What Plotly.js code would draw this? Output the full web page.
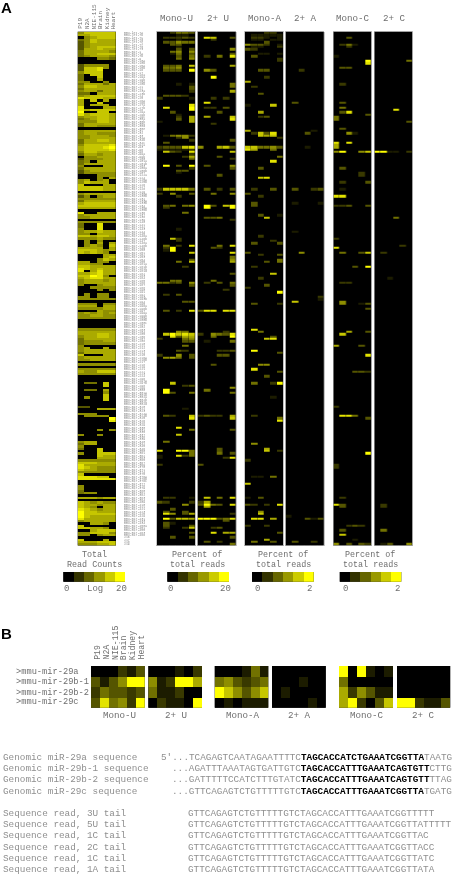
<!DOCTYPE html>
<html><head><meta charset="utf-8">
<script src="https://cdn.plot.ly/plotly-3.0.1.min.js"></script>
<style>html,body{margin:0;padding:0;background:#fff}#plot{width:459px;height:874px;filter:blur(0.45px)}</style>
</head><body><div id="plot"></div>
<script>
// Digits 0-9: shade from black (0) to full yellow (9).
const cellLines = ['P19','N2A','NIE-115','Brain','Kidney','Heart'];
const totalReads = ('577777 667777 056777 457666 357666 356666 356777 366766 466665 466777 456665 000554 000000 000000 355550 377850 377800 577700 407700 400700 ' +
 '400600 550050 466646 577666 466666 566466 440666 567777 877766 607060 600700 606660 800066 867777 900770 867776 566776 456776 555776 466666 ' +
 '466555 000000 566666 566555 556665 556666 466776 466666 577778 677789 677778 577666 466566 055666 355566 450666 466666 500066 466666 356666 ' +
 '355555 000555 000506 560560 576660 700066 777766 777766 000000 566666 350566 555555 466666 677777 777777 666666 000000 800666 566666 556666 ' +
 '000000 555555 400800 400800 500800 566766 550666 776776 555655 050500 050606 056507 666606 777656 767650 000066 000067 000576 660550 665500 ' +
 '776666 876766 806866 667866 779850 678866 566656 566666 500566 005555 000505 000000 050550 550550 555555 000000 555055 666066 555566 000655 ' +
 '565656 556655 555555 000000 000000 000000 000000 555555 666666 666776 566776 466666 455566 455555 500000 560060 566666 466666 700066 566666 ' +
 '556666 000000 555555 000000 555555 655777 555555 000000 000000 000000 044070 000070 000000 044060 000050 000070 050070 000070 000000 000000 ' +
 '330000 000666 000000 555000 055550 000009 000008 000000 000000 000000 000505 000000 500500 000000 000000 566000 466000 500000 400700 000700 ' +
 '500777 000766 000666 555555 777666 866666 876555 766555 555555 700000 888770 888888 000000 000000 500000 500000 400000 455000 000000 666566 ' +
 '000000 765655 766566 765066 876566 977666 977777 976666 866666 566666 006650 700000 776650 006777 557775 550566 000000 700060 666777 555667').split(' ');
const monoU = {0:'002443',1:'000110',2:'022232',3:'000100',4:'033544',5:'003300',6:'000100',7:'000303',8:'004505',9:'001403',10:'000304',11:'000405',14:'033407',15:'044501',16:'033309',22:'000101',23:'000003',24:'000003',25:'000002',27:'033320',28:'200001',31:'000008',32:'080009',33:'000009',34:'003000',35:'000100',36:'000206',37:'000306',38:'100006',44:'014552',45:'000250',46:'000002',47:'030000',49:'233378',50:'111112',51:'073208',52:'000002',53:'000026',54:'000004',57:'090309',58:'000002',59:'000330',60:'000100',67:'277774',69:'205003',70:'000200',74:'034045',75:'020000',77:'000040',84:'000100',88:'007200',89:'000200',91:'040208',92:'029000',93:'019000',94:'000007',97:'000003',98:'000407',100:'000020',106:'004400',107:'442305',108:'000003',112:'020300',115:'000033',119:'030208',128:'000540',129:'079787',130:'008366',131:'200045',132:'000033',134:'000040',136:'000320',138:'200503',139:'056403',150:'007000',151:'000023',153:'090000',154:'093004',161:'000010',164:'032007',165:'000008',169:'000800',170:'000004',172:'000700',175:'040000',179:'800994',180:'000004',181:'100824',182:'100000',185:'200000',199:'022001',201:'320002',202:'000050',204:'003000',205:'030030',206:'085036',208:'093776',210:'031000',211:'030003',212:'020027',214:'000003',216:'003003'};
const twoU = {2:'087003',3:'002000',7:'000005',9:'000003',10:'020408',14:'000006',16:'053000',19:'009000',22:'000004',23:'000004',25:'000006',28:'002020',30:'080000',32:'022030',34:'000300',36:'060007',37:'000008',39:'002000',46:'000003',49:'500673',51:'000007',53:'000300',54:'000002',57:'030005',58:'000003',61:'000300',67:'030203',69:'004005',74:'093079',75:'090009',79:'033400',80:'000002',91:'000408',92:'003200',94:'000008',96:'000004',97:'000005',98:'000006',103:'000003',106:'004000',107:'020304',108:'000003',110:'000020',119:'388088',128:'000020',129:'205438',130:'004009',132:'010004',136:'000223',138:'000330',142:'003000',152:'000005',153:'040000',154:'000004',164:'232206',165:'000007',170:'000003',178:'000300',179:'000300',180:'000403',182:'000028',185:'300000',199:'070408',201:'260000',202:'394308',203:'060000',206:'000002',208:'999348',209:'000030',212:'002300',214:'008066',216:'000003',218:'030200',219:'000004'};
const monoA = {0:'000220',1:'011111',2:'022101',3:'011011',4:'000300',5:'533201',6:'011002',7:'320000',9:'001101',10:'030000',11:'000002',12:'000002',16:'003300',19:'000200',21:'600000',23:'020000',26:'003000',31:'100070',34:'006000',36:'002300',42:'600000',43:'027380',44:'007670',45:'000002',49:'774453',50:'860040',53:'000004',55:'000080',58:'003000',62:'007800',67:'020030',69:'300000',70:'002000',73:'030000',74:'030000',78:'003001',79:'000700',87:'002000',89:'000020',90:'030003',94:'300000',95:'002003',97:'000004',98:'000304',100:'020000',103:'000070',105:'002000',108:'000300',109:'200000',111:'000009',116:'030002',127:'080000',128:'004000',130:'000030',131:'000780',136:'090000',137:'000003',142:'005500',144:'080000',145:'000003',147:'000300',150:'040029',156:'000010',164:'020000',165:'000004',166:'000008',176:'050000',178:'000600',179:'000702',183:'200000',190:'011040',193:'700000',199:'103000',202:'320208',205:'005000',206:'007000',208:'088060',211:'200200',214:'000003',217:'000600',218:'040030'};
const twoA = {16:'002000',30:'030000',42:'000010',43:'000300',49:'000100',67:'030023',73:'010001',85:'010000',94:'005000',113:'000002',114:'000001',115:'070000',207:'100000',208:'000313',218:'030020'};
const monoC = {2:'003000',5:'024100',6:'002000',10:'100000',12:'000009',13:'000008',15:'033000',22:'020000',30:'030000',32:'040000',34:'038000',35:'000003',36:'400000',37:'400000',41:'030000',43:'005100',47:'808000',48:'600000',49:'600000',51:'590057',58:'030000',60:'000020',61:'000020',64:'020003',67:'010000',70:'880000',74:'223003',88:'200000',92:'800000',94:'040037',100:'000309',107:'022000',115:'050000',116:'050013',118:'000003',128:'006003',129:'070000',134:'600030',138:'000008',145:'000332',160:'200000',164:'088400',165:'000003',180:'000009',185:'200000',186:'200000',199:'020000',202:'830000',203:'030000',211:'002320',213:'030000',215:'070000',217:'000100',219:'503032'};
const twoC = {12:'000004',33:'000800',38:'000003',51:'991102',79:'000400',91:'000020',94:'020000',105:'001000',202:'020000',203:'020000',213:'040000',219:'013005'};
const miniMonoU = ['000213','313599','243323','384529'];
const miniTwoU  = ['000102','512996','411200','021109'];
const miniMonoA = ['000141','453234','975357','010111'];
const miniTwoA  = ['000000','000100','010000','000010'];
const miniMonoC = ['909101','400000','625311','692037'];
const miniTwoC  = ['000000','000000','000000','992113'];
const legendLevels = [0,1.8,3.6,5.4,7.2,9];
const mirLabels = ('let-7a let-7b let-7c let-7d let-7e let-7f let-7g let-7i mir-1 mir-7a mir-7b mir-9 mir-10a mir-10b mir-15a mir-15b mir-16 mir-17 mir-18a mir-19a mir-19b mir-20a mir-20b mir-21 mir-22 mir-23a mir-23b mir-24 mir-25 mir-26a mir-26b mir-27a mir-27b mir-28 mir-29a mir-29b mir-29c mir-30a mir-30b mir-30c mir-30d mir-30e mir-31 mir-32 mir-33 mir-34a mir-34b mir-34c mir-92a mir-93 mir-96 mir-98 mir-99a mir-99b mir-100 mir-101a mir-101b mir-103 mir-106a mir-106b mir-107 mir-122a mir-124 mir-125a mir-125b mir-126 mir-127 mir-128 mir-129 mir-130a mir-130b mir-132 mir-133a mir-133b mir-134 mir-135a mir-135b mir-136 mir-137 mir-138 mir-139 mir-140 mir-141 mir-142 mir-143 mir-144 mir-145 mir-146a mir-146b mir-147 mir-148a mir-148b mir-149 mir-150 mir-151 mir-152 mir-153 mir-154 mir-155 mir-181a mir-181b mir-181c mir-181d mir-182 mir-183 mir-184 mir-185 mir-186 mir-187 mir-188 mir-190 mir-191 mir-192 mir-193 mir-193b mir-194 mir-195 mir-196a mir-196b mir-197 mir-199a mir-199b mir-200a mir-200b mir-200c mir-201 mir-202 mir-203 mir-204 mir-205 mir-206 mir-207 mir-208 mir-210 mir-211 mir-212 mir-213 mir-214 mir-215 mir-216a mir-216b mir-217 mir-218 mir-219 mir-221 mir-222 mir-223 mir-224 mir-296 mir-297a mir-297b mir-298 mir-299 mir-300 mir-301a mir-301b mir-302a mir-302b mir-302c mir-302d mir-320 mir-322 mir-323 mir-324a mir-324b mir-325 mir-326 mir-328 mir-329 mir-330 mir-331 mir-335 mir-337 mir-338 mir-339 mir-340 mir-342 mir-345 mir-346 mir-350 mir-361 mir-362 mir-363 mir-365 mir-367 mir-369 mir-370 mir-371 mir-374 mir-375 mir-376a mir-376b mir-376c mir-377 mir-378 mir-379 mir-380 mir-381 mir-382 mir-383 mir-384 mir-409 mir-410 mir-411 mir-421 mir-423 mir-425 mir-429 mir-431 mir-433 mir-434 mir-450a mir-451 mir-455 mir-463 mir-466').split(' ').map(s => 'mmu-' + s);
const bRowLabels = ['>mmu-mir-29a','>mmu-mir-29b-1','>mmu-mir-29b-2','>mmu-mir-29c'];
const genomicNames = ['Genomic miR-29a sequence','Genomic miR-29b-1 sequence','Genomic miR-29b-2 sequence','Genomic miR-29c sequence'];
const genomicLead = ["5'...TCAGAGTCAATAGAATTTTC","...AGATTTAAATAGTGATTGTC","...GATTTTTCCATCTTTGTATC","...GTTCAGAGTCTGTTTTTGTC"];
const genomicCore = ['TAGCACCATCTGAAATCGGTTA','TAGCACCATTTGAAATCAGTGTT','TAGCACCATTTGAAATCAGTGTT','TAGCACCATTTGAAATCGGTTA'];
const genomicTail = ['TAATG','CTTG','TTAG','TGATG'];
const readNames = ['Sequence read, 3U tail','Sequence read, 5U tail','Sequence read, 1C tail','Sequence read, 2C tail','Sequence read, 1C tail','Sequence read, 1A tail'];
const readSeqs = ['GTTCAGAGTCTGTTTTTGTCTAGCACCATTTGAAATCGGTTTTT','GTTCAGAGTCTGTTTTTGTCTAGCACCATTTGAAATCGGTTATTTTT','GTTCAGAGTCTGTTTTTGTCTAGCACCATTTGAAATCGGTTAC','GTTCAGAGTCTGTTTTTGTCTAGCACCATTTGAAATCGGTTACC','GTTCAGAGTCTGTTTTTGTCTAGCACCATTTGAAATCGGTTATC','GTTCAGAGTCTGTTTTTGTCTAGCACCATTTGAAATCGGTTATA'];

const W = 459, H = 874, N = 220;
const toRow = s => s.split('').map(Number);
const dense = arr => arr.map(toRow);
const blank = '000000';
const expand = o => Array.from({length:N}, (_, r) => toRow(o[r] || blank));
const scale = [[0,'#000000'],[0.2,'#333300'],[0.4,'#666600'],[0.6,'#999900'],[0.8,'#cccc00'],[1,'#ffff00']];
const MONO = '"Liberation Mono","DejaVu Sans Mono",monospace';
const GREY = '#6e6e6e';

const traces = [], layout = {width:W,height:H,margin:{l:0,r:0,t:0,b:0},paper_bgcolor:'#fff',plot_bgcolor:'#000',showlegend:false,annotations:[]};
let ax = 0;
function heat(z, x0, x1, y0, y1, opt) {
  opt = opt || {};
  ax++;
  const s = ax === 1 ? '' : String(ax);
  traces.push({type:'heatmap', z, xaxis:'x'+s, yaxis:'y'+s, colorscale:scale, zmin:0, zmax:9, showscale:false, hoverinfo:'skip', zsmooth:false, xgap:opt.gap||0});
  const rows = z.length, cols = z[0].length;
  const frame = opt.frame ? {showline:true, mirror:true, linecolor:'#a0a0a0', linewidth:0.6} : {showline:false};
  layout['xaxis'+s] = Object.assign({domain:[x0/W,x1/W], range:[-0.5,cols-0.5], showgrid:false, zeroline:false, showticklabels:false, ticks:'', fixedrange:true, anchor:'y'+s}, frame);
  layout['yaxis'+s] = Object.assign({domain:[1-y1/H,1-y0/H], range:[rows-0.5,-0.5], showgrid:false, zeroline:false, showticklabels:false, ticks:'', fixedrange:true, anchor:'x'+s}, frame, opt.y||{});
}
function txt(text, x, y, o) {
  o = o || {};
  layout.annotations.push({text, xref:'paper', yref:'paper', x:x/W, y:1-y/H, xanchor:o.a||'center', yanchor:o.v||'middle', showarrow:false, textangle:o.rot||0, borderpad:0, borderwidth:0,
    font:{family:o.f||MONO, size:o.s||8.4, color:o.c||GREY}});
}

// Panel A
const T0 = 31.7, T1 = 545.5;
const rowIdx = Array.from({length:N}, (_, i) => i);
heat(dense(totalReads), 77.7, 116, T0, T1, {y:{side:'right', showticklabels:true, tickmode:'array', tickvals:rowIdx, ticktext:mirLabels.slice(0,N), tickfont:{family:MONO,size:3.2,color:'#8a8a8a'}, ticklabelstandoff:7, automargin:false}});
const aPanels = [[monoU,157,195],[twoU,197.7,235.7],[monoA,245,283],[twoA,285.7,323.7],[monoC,333.3,371.3],[twoC,374.3,412.3]];
aPanels.forEach(p => heat(expand(p[0]), p[1], p[2], T0, T1, {gap:0.3, frame:true}));
// Legends
[[63.3,125],[167.3,229],[252,313.7],[339.7,401.3]].forEach(p => heat([legendLevels], p[0], p[1], 572, 581.7));
// Panel B
const bPanels = [[miniMonoU,91,144.7],[miniTwoU,148.3,202],[miniMonoA,214.7,268.3],[miniTwoA,272,325.7],[miniMonoC,339,393],[miniTwoC,397,450.3]];
bPanels.forEach(p => heat(dense(p[0]), p[1], p[2], 666, 707.7));

// Text
txt('<b>A</b>', 1, 7, {a:'left', f:'"Liberation Sans",Arial,sans-serif', s:15, c:'#000'});
txt('<b>B</b>', 1, 633, {a:'left', f:'"Liberation Sans",Arial,sans-serif', s:15, c:'#000'});
[81,87.3,94.3,100.7,107,113.3].forEach((x,i) => txt(cellLines[i], x, 29.3, {rot:-90, v:'bottom', s:6}));
[97.3,106,115,123.7,132.3,141].forEach((x,i) => txt(cellLines[i], x, 660, {rot:-90, v:'bottom', s:8.2}));
const hdr = ['Mono-U','2+ U','Mono-A','2+ A','Mono-C','2+ C'];
[176.7,218.3,264.5,305,352.7,394].forEach((x,i) => txt(hdr[i], x, 18, {s:9.2}));
[119.3,175.5,242.8,299.2,366.7,423.2].forEach((x,i) => txt(hdr[i], x, 715.5, {s:9.2}));
txt('Total', 94, 554.7); txt('Read Counts', 94, 565);
[197.3,283.3,370].forEach(x => { txt('Percent of', x, 554.7); txt('total reads', x, 565); });
txt('0', 66, 589, {s:9}); txt('Log', 95, 589, {s:9}); txt('20', 121, 589, {s:9});
txt('0', 170, 589, {s:9}); txt('20', 225, 589, {s:9});
txt('0', 257.3, 589, {s:9}); txt('2', 309.3, 589, {s:9});
txt('0', 345.3, 589, {s:9}); txt('2', 397, 589, {s:9});
[671.7,682,692.7,702.3].forEach((y,i) => txt(bRowLabels[i], 15.7, y, {a:'left', s:8.7}));
const SEQ = 9.33, LIGHT = '#8f8f8f';
[757,768.3,779.7,791].forEach((y,i) => {
  txt(genomicNames[i], 3.3, y, {a:'left', s:SEQ, c:LIGHT});
  txt(genomicLead[i]+'<b><span style="color:#000">'+genomicCore[i]+'</span></b>'+genomicTail[i], i===0?160.7:171.9, y, {a:'left', s:SEQ, c:LIGHT});
});
[813.7,824.7,835.7,847,858.3,869.7].forEach((y,i) => {
  txt(readNames[i], 3.3, y, {a:'left', s:SEQ, c:LIGHT});
  txt(readSeqs[i], 188.3, y, {a:'left', s:SEQ, c:LIGHT});
});

Plotly.newPlot('plot', traces, layout, {displayModeBar:false, staticPlot:true});
</script></body></html>
